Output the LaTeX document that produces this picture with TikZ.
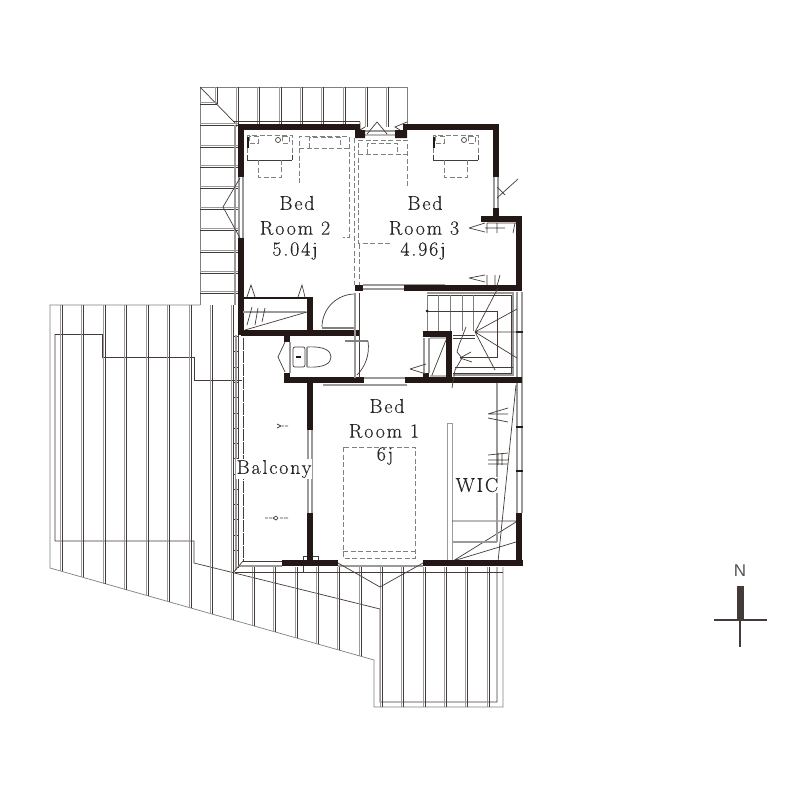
\documentclass[tikz,border=0pt]{standalone}
\usepackage{fontspec}
\setmainfont{Latin Modern Roman}[LetterSpace=9,FakeBold=0.15]
\newfontfamily\northfont{Liberation Sans}
\usepackage{tikz}
\definecolor{wallink}{HTML}{231815}
\definecolor{textink}{HTML}{2A2625}
\definecolor{ribgrey}{HTML}{9A9A9A}
\tikzset{
  wall/.style={line width=6pt,color=wallink},
  fine/.style={line width=0.7pt,color=wallink!85},
  pale/.style={line width=1.2pt,color=ribgrey},
  bed/.style={line width=0.8pt,color=gray,dash pattern=on 5pt off 2.5pt},
  room/.style={text=textink,font=\fontsize{20}{20}\selectfont,inner sep=0pt},
}
\begin{document}
\begin{tikzpicture}[x=1pt,y=-1pt]
  \useasboundingbox (0,0) rectangle (800,800);
  \fill[white] (0,0) rectangle (800,800);

  % roof
  \draw[fine,color=gray] (200,305) -- (200,87) -- (407,87) -- (407,125);
  \draw[fine,color=gray] (200,305) -- (50,305) -- (50,568) -- (374,660) -- (374,707) -- (503,707) -- (503,567);
  \draw[fine] (200,87) -- (237,125);
  \draw[fine] (55,334) -- (102,334) -- (102,357) -- (194,357) -- (194,380) -- (242,380);
  \draw[fine] (55,334) -- (55,541) -- (194,541) -- (194,563) -- (380,609) -- (380,702) -- (497,702) -- (497,567);
  \foreach \x in {62,83,105,126,148,169,191,212,233}{
    \pgfmathsetmacro{\ylow}{568+(\x-50)*0.2835}
    \draw[pale] (\x-1.5,305) -- (\x-1.5,\ylow);
    \draw[fine] (\x,305) -- (\x,\ylow);
  }
  \foreach \x in {254,275,297,318,339,361}{
    \pgfmathsetmacro{\ylow}{568+(\x-50)*0.2835}
    \draw[pale] (\x-1.5,567) -- (\x-1.5,\ylow);
    \draw[fine] (\x,567) -- (\x,\ylow);
  }
  \foreach \x in {382,403,425,446,467,489}{
    \draw[pale] (\x-1.5,567) -- (\x-1.5,707);
    \draw[fine] (\x,567) -- (\x,707);
  }
  \draw[pale] (215.5,87) -- (215.5,104);
  \draw[fine] (217,87) -- (217,104);
  \foreach \x in {238,259,281,302,323,345,367,388}{
    \draw[pale] (\x-1.5,87) -- (\x-1.5,127);
    \draw[fine] (\x,87) -- (\x,127);
  }
  \foreach \y in {104,125,147,167,188,209,230,252,273,293}{
    \pgfmathsetmacro{\xend}{min(238,200+(\y-87))}
    \draw[pale] (200,\y-1.5) -- (\xend,\y-1.5);
    \draw[fine] (200,\y) -- (\xend,\y);
  }
  \draw[pale] (235,125) -- (235,305);
  \draw[fine] (233,121) -- (360,121);
  \draw[fine] (235,572) -- (503,572);
  \foreach \y in {336,351,367,382,397,413,428,443,458,474,489,504,519,535,550}{
    \draw[fine] (234,\y) -- (239,\y);
  }
  \draw[pale] (236,335) -- (236,570);
  \draw[fine] (238.5,335) -- (238.5,568);
  \draw[fine,dash pattern=on 12pt off 1pt] (243,338) -- (243,561);
  \draw[fine] (243,561) -- (282,561);
  \draw[pale] (238,566) -- (282,566);
  \draw[fine] (243,561) -- (233,573);

  % windows
  \draw[pale] (239,177) -- (239,238) (243,177) -- (243,238);
  \draw[fine] (240,178) -- (223,207) -- (240,238);
  \draw[pale] (494,177) -- (494,208) (498,177) -- (498,208);
  \draw[fine] (518,179) -- (497,198) (497,187) -- (505,195);
  \draw[pale] (363,285) -- (445,285) (363,289) -- (404,289);
  \draw[pale] (364,378) -- (405,378) (323,385) -- (407,385);
  \draw[pale] (338,566) -- (423,566);
  \draw[fine] (338,563) -- (380,587) -- (423,563);
  \draw[pale] (308,430) -- (308,513) (312,430) -- (312,513);
  \draw[pale] (517,292) -- (517,513) (522,292) -- (522,513);
  \draw[pale] (365,131) -- (395,131);
  \draw[fine] (365,135) -- (395,135) (367,134) -- (377,122) -- (387,134);
  \draw[fine] (360,122) -- (360,130) -- (365,127) (407,122) -- (395,127) -- (400,130);
  \draw[fine] (303,556) rectangle (318,572);
  \foreach \y in {332,427,471}{
    \draw[line width=1.5pt,color=wallink] (516,\y) -- (523,\y);
  }

  % wic
  \draw[line width=0.8pt,color=ribgrey,fill=white] (447,423) rectangle (452,562);
  \draw[fine] (452,521) -- (516,521) (453,561) -- (516,522) (453,561) -- (516,542);
  \draw[pale] (452,542) -- (497,542) (497,383) -- (497,542);
  \draw[fine] (516,385) -- (498,562);
  \draw[fine] (488,414) -- (508,408) (488,414) -- (508,414) (488,418) -- (508,422);
  \draw[fine] (488,455) -- (508,453) (488,460) -- (508,460) (488,464) -- (508,464) (498,453) -- (498,465) (502,453) -- (502,465);

  % walls
  \draw[wall] (360,127) -- (241,127) -- (241,177);
  \draw[wall] (241,238) -- (241,335);
  \draw[wall] (403,127) -- (496,127) -- (496,177);
  \draw[wall] (496,208) -- (496,219);
  \draw[wall] (481,219) -- (519,219) -- (519,291) (404,288) -- (519,288);
  \draw[wall] (355,288) -- (363,288);
  \fill[wallink] (355,130) rectangle (365,138) (395,130) rectangle (407,138);
  \draw[wall] (241,333) -- (360,333);
  \draw[wall] (310,297) -- (310,333);
  \draw[line width=2pt,color=wallink] (243,298) -- (310,298);
  \draw[wall] (287,333) -- (287,342) (287,373) -- (287,383);
  \draw[wall] (284,380) -- (364,380) (405,380) -- (522,380);
  \draw[wall] (310,380) -- (310,430) (310,513) -- (310,565);
  \draw[wall] (282,563) -- (338,563) (423,563) -- (523,563);
  \draw[wall] (519,513) -- (519,566);
  \draw[wall] (423,334) -- (452,334) (449,332) -- (449,380) (426,373) -- (426,380);

  % beds
  \draw[bed] (299,183) -- (299,136) -- (349,136) -- (349,237) -- (343,237);
  \draw[bed] (299,148) -- (349,148) (309,148) -- (309,137) -- (340,137) -- (340,148);
  \draw[bed] (407,186) -- (407,140) -- (358,140) -- (358,243) -- (390,243);
  \draw[bed] (358,154) -- (407,154) (367,154) -- (367,143) -- (397,143) -- (397,154);
  \draw[bed] (354,138) -- (354,285) (359,244) -- (359,285);
  \draw[bed] (343,447) rectangle (415,558) (343,551) -- (415,551);

  % desks
  \foreach \x in {247,433}{
    \draw[bed] (\x,160) -- (\x,135) -- (\x+45,135) -- (\x+45,160);
    \draw[fine] (\x,160) -- (\x+45,160) (\x,155) -- (\x,160) (\x+45,155) -- (\x+45,160);
    \draw[bed] (\x+11,160) -- (\x+11,177) -- (\x+34,177) -- (\x+34,160);
    \draw[bed] (\x+2,136) rectangle (\x+11,143) (\x+35,136) rectangle (\x+42,143);
    \draw[fine] (\x+31,140) circle (2.5);
    \draw[line width=1.5pt,color=wallink] (\x+1,137) -- (\x+1,148);
  }

  % closets
  \draw[fine] (247,297) -- (251,285) -- (255,297) (298,297) -- (302,285) -- (305,297);
  \draw[pale] (243,312) -- (306,312);
  \draw[fine] (245,330) -- (307,312);
  \draw[fine] (247,325) -- (252,307) (255,325) -- (258,308) (262,322) -- (265,308);
  \draw[fine] (469,228) -- (485,223) (469,228) -- (485,232);
  \draw[fine] (485,228) -- (505,228) (487,223) -- (516,223) (487,223) -- (487,233) (497,223) -- (497,233) (515,223) -- (513,233);
  \draw[fine] (469,278) -- (485,275) (469,278) -- (485,282) (487,275) -- (487,285) (495,275) -- (495,285) (500,275) -- (497,286);
  \draw[pale] (424,338) -- (424,373) (429,338) -- (429,373);
  \draw[fine] (432,375) -- (446,340) (430,338) -- (446,338) (430,376) -- (446,376);
  \draw[fine] (410,369) -- (426,364) (410,369) -- (426,374);

  % door and toilet
  \draw[fine] (355,294) arc (-90:-180:33);
  \draw[line width=1.5pt,color=gray] (322,328) -- (355,328);
  \draw[pale] (355,293) -- (355,378);
  \draw[fine] (359,293) -- (359,378);
  \draw[line width=2pt,color=gray] (345,341) -- (368,341);
  \draw[fine] (368,341) .. controls (370,355) and (365,367) .. (357,375);
  \draw[fine] (285,342) -- (278,357) -- (285,372);
  \draw[pale] (290,342) -- (290,373);
  \draw[fine,rounded corners=2pt] (293,347) rectangle (305,367);
  \draw[fine] (307,347) .. controls (325,346) and (331,351) .. (331,357) .. controls (331,363) and (325,368) .. (307,367);
  \draw[pale] (307,347) -- (307,367);
  \draw[line width=1.5pt,color=wallink] (296,357) -- (301,357);

  % stairs
  \draw[pale] (427,293) -- (513,293) -- (513,375) -- (453,375);
  \draw[fine] (427,295) -- (511,295) -- (511,373) -- (453,373);
  \foreach \x in {427,438,450,462,473}{
    \draw[fine,color=gray] (\x,295) -- (\x,331);
  }
  \draw[fine] (427,311) -- (497,311) -- (497,357) -- (460,357);
  \fill[wallink] (427,311) circle (1.5);
  \draw[fine] (475,332) -- (498,288) (475,332) -- (517,309) (475,332) -- (517,358) (475,332) -- (495,370) (475,332) -- (522,332);
  \draw[fine] (453,335) -- (475,335) (453,338) -- (475,338) (455,367) -- (513,367);
  \draw[fine] (466,327) -- (459,345) -- (457,352) -- (462,358) -- (455,370) -- (452,388);
  \draw[fine] (460,358) -- (471,352) (460,358) -- (472,362);

  % balcony marks
  \draw[fine] (277,424) -- (281,426) -- (277,428) (282,426) -- (284,426) (285,426) -- (288,426);
  \draw[fine] (265,518) -- (268,518) (269,518) -- (272,518) (273,518) -- (276,516) -- (278,518) -- (276,520) -- (273,518) (280,518) -- (283,518) (284,518) -- (288,518);

  % labels
  \draw (297,203) node[room] (bedtwo) {Bed};
  \draw (295,228) node[room] (roomtwo) {Room 2};
  \draw (295,251) node[room] (areatwo) {5.04j};
  \draw (425,203) node[room] (bedthree) {Bed};
  \draw (424,228) node[room] (roomthree) {Room 3};
  \draw (423,251) node[room] (areathree) {4.96j};
  \draw (387,406) node[room] (bedone) {Bed};
  \draw (384,431) node[room] (roomone) {Room 1};
  \draw (385,456) node[room] (areaone) {6j};
  \draw (477,485) node[room,fill=white,inner sep=1pt] (wic) {WIC};
  \draw (274,469) node[room,fill=white,inner sep=1pt] (balcony) {Balcony};

  % north mark
  \draw (740,571) node[text=textink!80,inner sep=0pt,font=\northfont\fontsize{17}{17}\selectfont] (north) {N};
  \fill[wallink!85] (737,586) rectangle (744,620);
  \draw[line width=1.2pt,color=wallink!85] (714,620) -- (767,620) (740,620) -- (740,647);
\end{tikzpicture}
\end{document}
